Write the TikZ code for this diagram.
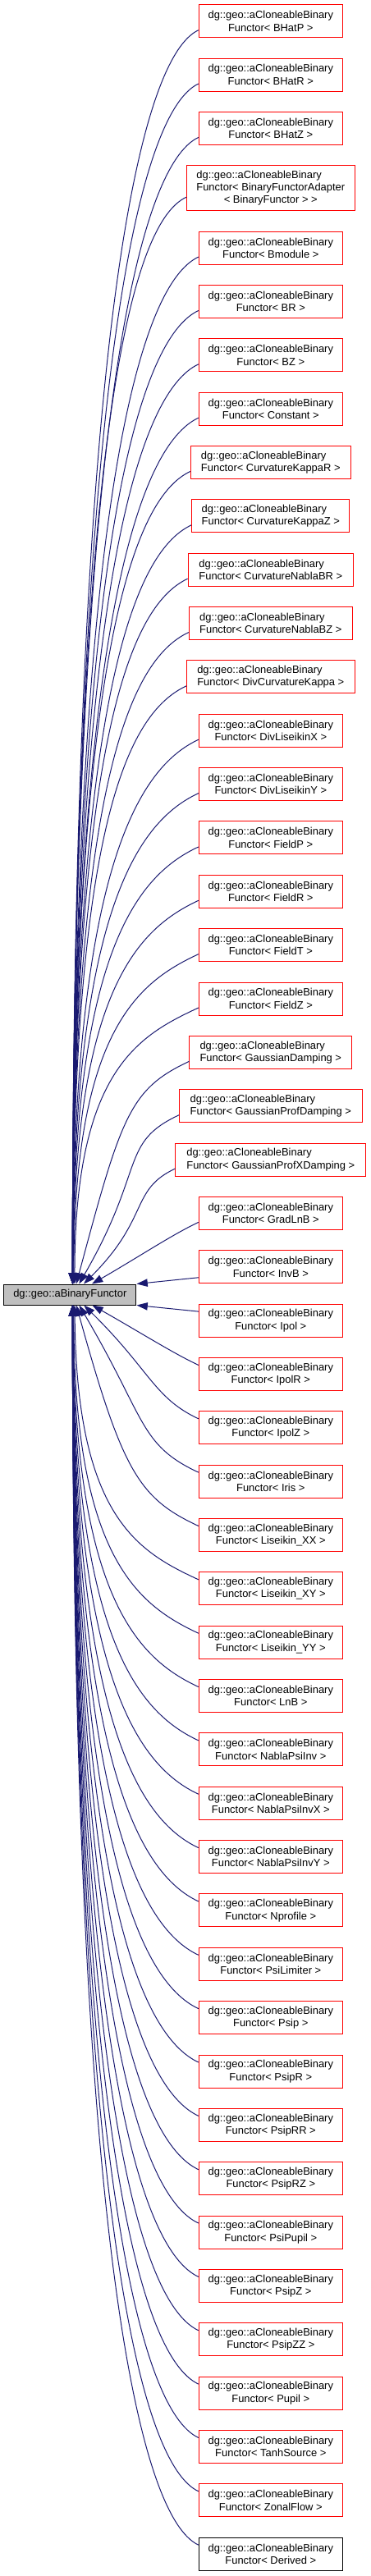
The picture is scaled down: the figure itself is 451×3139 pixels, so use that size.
\documentclass[tikz,border=0pt]{standalone}
\usepackage{fontspec}
\setmainfont{Liberation Sans}
\usetikzlibrary{arrows.meta}
\definecolor{edgeblue}{HTML}{191970}
\definecolor{nodegray}{HTML}{BFBFBF}
\newbox\cbA \newbox\cbB \newbox\cbC \newdimen\cbw
\newcommand{\cblab}[1]{\setbox\cbA=\hbox{dg::geo::aCloneableBinary}\setbox\cbB=\hbox{Functor< #1 >}%
\cbw=\wd\cbA \ifdim\wd\cbB>\cbw \cbw=\wd\cbB\fi
\vbox{\hbox to\cbw{\box\cbA\hfil}\hbox to\cbw{\hfil\box\cbB\hfil}}}
\newcommand{\cbthree}{\setbox\cbA=\hbox{dg::geo::aCloneableBinary}\setbox\cbB=\hbox{Functor< BinaryFunctorAdapter}\setbox\cbC=\hbox{< BinaryFunctor > >}%
\cbw=\wd\cbB
\vbox{\hbox to\cbw{\box\cbA\hfil}\hbox to\cbw{\box\cbB\hfil}\hbox to\cbw{\hfil\box\cbC\hfil}}}
\tikzset{
  cb/.style={draw, line width=0.75pt, fill=white, inner sep=0pt, minimum width={#1*0.75pt}, minimum height=30pt,
    font=\fontsize{9.7}{11.55}\selectfont},
  base/.style={draw=black, line width=0.75pt, fill=nodegray, inner sep=0pt, minimum width=121pt, minimum height=18.75pt,
    font=\fontsize{9.7}{11.55}\selectfont},
  edge/.style={draw=edgeblue, line width=0.75pt, -{Triangle[length=10pt,width=7pt]}}
}
\begin{document}
\begin{tikzpicture}[x=0.75pt,y=0.75pt]
\useasboundingbox (0,0) rectangle (451,-3139);
\node[base] (main) at (85.3,-1577.5) {dg::geo::aBinaryFunctor};
\node[cb=204.7, draw=red, minimum height=41.25pt] (b3) at (329.8,-229.25) {\cbthree};
\foreach \i/\nm/\w/\col in {
 0/BHatP/175/red, 1/BHatR/175/red, 2/BHatZ/175/red,
 4/Bmodule/175/red, 5/BR/175/red, 6/BZ/175/red, 7/Constant/175/red,
 8/CurvatureKappaR/195/red, 9/CurvatureKappaZ/192.3/red,
 10/CurvatureNablaBR/201.3/red, 11/CurvatureNablaBZ/199/red,
 12/DivCurvatureKappa/204.7/red, 13/DivLiseikinX/175/red, 14/DivLiseikinY/175/red,
 15/FieldP/175/red, 16/FieldR/175/red, 17/FieldT/175/red, 18/FieldZ/175/red,
 19/GaussianDamping/197.7/red, 20/GaussianProfDamping/222.4/red, 21/GaussianProfXDamping/231.7/red,
 22/GradLnB/175/red, 23/InvB/175/red, 24/Ipol/175/red, 25/IpolR/175/red, 26/IpolZ/175/red,
 27/Iris/175/red, 28/Liseikin\_XX/175/red, 29/Liseikin\_XY/175/red, 30/Liseikin\_YY/175/red,
 31/LnB/175/red, 32/NablaPsiInv/175/red, 33/NablaPsiInvX/175/red, 34/NablaPsiInvY/175/red,
 35/Nprofile/175/red, 36/PsiLimiter/175/red, 37/Psip/175/red, 38/PsipR/175/red,
 39/PsipRR/175/red, 40/PsipRZ/175/red, 41/PsiPupil/175/red, 42/PsipZ/175/red,
 43/PsipZZ/175/red, 44/Pupil/175/red, 45/TanhSource/175/red, 46/ZonalFlow/175/red,
 47/Derived/175/black} {
  \pgfmathsetmacro\yc{\i<4 ? 25.7+65.35*\i : 40.7+65.35*\i}
  \node[cb=\w, draw=\col] (b\i) at (329.8,-\yc) {\cblab{\nm}};
}
% edges from boxes above
\foreach \i in {0,...,22} {
  \pgfmathsetmacro\yc{\i==3 ? 229.25 : (\i<4 ? 25.7+65.35*\i : 40.7+65.35*\i)}
  \pgfmathsetmacro\dy{1565-\yc}
  \pgfmathsetmacro\xt{0.75*(3+25*exp(-(\dy-80)/120))}
  \pgfmathsetmacro\ang{min(90,30+(\dy-87)*0.23)}
  \pgfmathsetmacro\La{min(80,0.4*\dy)}
  \pgfmathsetmacro\Lb{0.75*\dy}
  \draw[edge] ([yshift=-8.25pt]b\i.west) .. controls +(205:\La) and +(\ang:\Lb) .. ([xshift=\xt pt]main.north);
}
% edges from boxes below
\foreach \i in {25,...,47} {
  \pgfmathsetmacro\yc{40.7+65.35*\i}
  \pgfmathsetmacro\dy{\yc-1590}
  \pgfmathsetmacro\xt{0.75*(3+25*exp(-(\dy-80)/120))}
  \pgfmathsetmacro\ang{min(90,30+(\dy-87)*0.23)}
  \pgfmathsetmacro\La{min(80,0.4*\dy)}
  \pgfmathsetmacro\Lb{0.75*\dy}
  \draw[edge] ([yshift=8.25pt]b\i.west) .. controls +(155:\La) and +({-\ang}:\Lb) .. ([xshift=\xt pt]main.south);
}
\draw[edge] ([yshift=-9.75pt]b23.west) -- (main.north east);
\draw[edge] ([yshift=8.25pt]b24.west) -- (main.south east);
\end{tikzpicture}
\end{document}
